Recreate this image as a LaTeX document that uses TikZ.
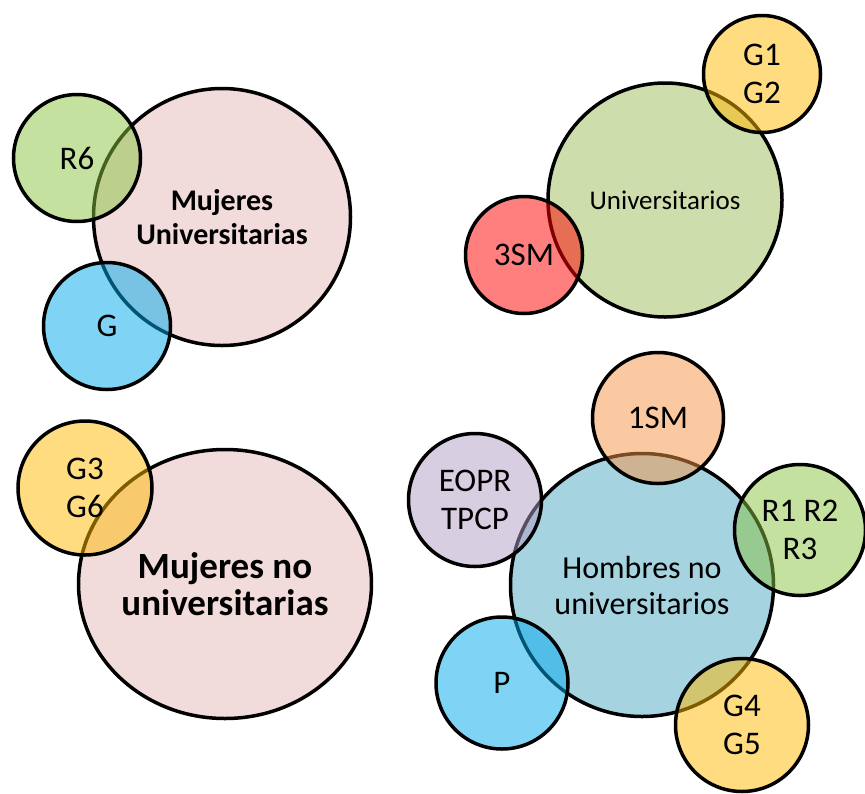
\documentclass[tikz,border=0pt]{standalone}
\usepackage{fontspec}
\setmainfont{Carlito}
\usetikzlibrary{shapes.geometric}
\definecolor{pinkA}{RGB}{242,220,219}
\definecolor{univG}{RGB}{205,221,172}
\definecolor{hombB}{RGB}{165,211,224}
\definecolor{goldS}{RGB}{255,185,0}
\definecolor{blueS}{RGB}{0,170,238}
\definecolor{greenS}{RGB}{137,195,65}
\definecolor{redS}{RGB}{255,0,0}
\definecolor{orangeS}{RGB}{245,148,68}
\definecolor{purpleS}{RGB}{177,157,197}
\begin{document}
\begin{tikzpicture}[x=1pt,y=-1pt,
  circ/.style={circle,draw=black,line width=3.5pt,inner sep=0pt,align=center,text=black},
  big/.style={circ},
  small/.style={circ,fill opacity=0.5,text opacity=1},
  lbl/.style={font=\fontsize{33}{38}\selectfont},
]
\useasboundingbox (0,0) rectangle (865,793);

% Top-left group
\node[big,fill=pinkA,minimum size=257pt,font=\bfseries\fontsize{30}{34}\selectfont] (mu) at (222,217) {Mujeres\\Universitarias};
\node[small,fill=greenS,minimum size=127pt,lbl] (r6) at (77,158) {R6};
\node[small,fill=blueS,minimum size=127pt,lbl] (g) at (107,326) {G};

% Top-right group
\node[big,fill=univG,minimum size=234pt,font=\fontsize{27}{32}\selectfont] (un) at (665,200) {Universitarios};
\node[small,fill=goldS,minimum size=117pt,lbl] (g12) at (762,74) {G1\\G2};
\node[small,fill=redS,minimum size=117pt,lbl] (sm3) at (524,255) {3SM};

% Bottom-left group
\node[draw=black,line width=3.5pt,inner sep=0pt,align=center,fill=pinkA,ellipse,minimum width=291pt,minimum height=269pt,font=\bfseries\fontsize{37}{37}\selectfont] (mnu) at (225,584) {Mujeres no\\universitarias};
\node[small,fill=goldS,minimum size=134pt,lbl] (g36) at (85,488) {G3\\G6};

% Bottom-right group
\node[big,fill=hombB,minimum size=263pt,font=\fontsize{32}{36}\selectfont] (hnu) at (642,585) {Hombres no\\universitarios};
\node[small,fill=orangeS,minimum size=131pt,lbl] (sm1) at (658,418) {1SM};
\node[small,fill=purpleS,minimum size=133pt,lbl] (eo) at (475,500) {EOPR\\TPCP};
\node[small,fill=greenS,minimum size=131pt,lbl] (r123) at (800,530) {R1 R2\\R3};
\node[small,fill=blueS,minimum size=132pt,lbl] (p) at (502,683) {P};
\node[small,fill=goldS,minimum size=133pt,lbl] (g45) at (742,725) {G4\\G5};
\end{tikzpicture}
\end{document}
